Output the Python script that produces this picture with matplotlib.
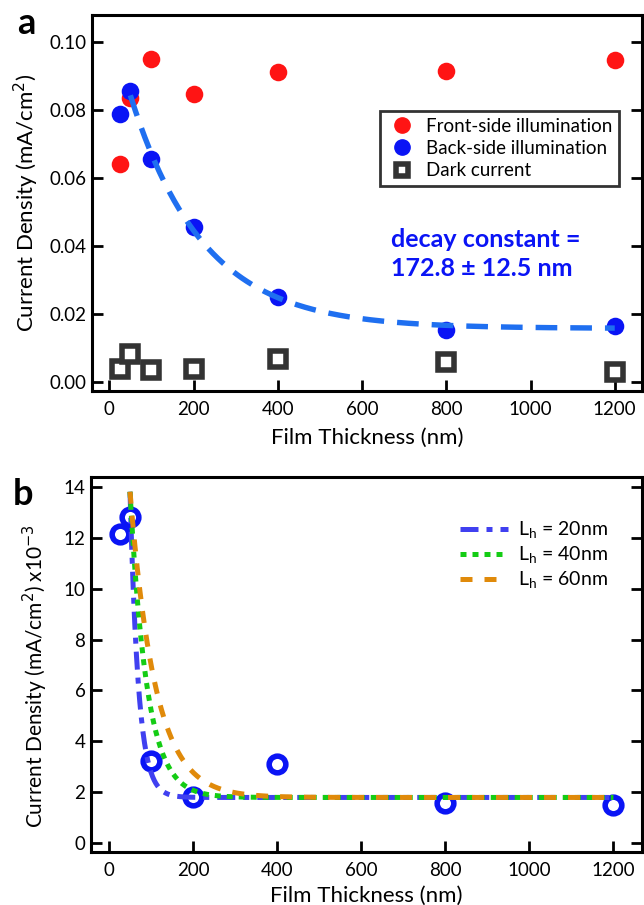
import numpy as np
import matplotlib
matplotlib.use('Agg')
import matplotlib.pyplot as plt
from matplotlib.lines import Line2D

plt.rcParams['font.family'] = ['Lato', 'DejaVu Sans']

# panel a data
thickness = [25, 50, 100, 200, 400, 800, 1200]
front_side = [0.0643, 0.0835, 0.0950, 0.0848, 0.0912, 0.0915, 0.0948]
back_side = [0.0790, 0.0857, 0.0658, 0.0456, 0.0251, 0.0154, 0.0167]
dark_current = [0.0040, 0.0085, 0.0036, 0.0041, 0.0070, 0.0060, 0.0032]

# exponential fit
fit_tau = 172.8
fit_amp = 0.0685
fit_offset = 0.0159
fit_start = 50

# panel b data
back_dark_sub = [12.15, 12.82, 3.22, 1.82, 3.12, 1.60, 1.51]
lh_values = [20, 40, 60]
model_amp = 12.0
model_offset = 1.8
model_start = 50

W, H = 644, 905
fig = plt.figure(figsize=(W / 100, H / 100), dpi=100)


def px_axes(left, top, right, bottom):
    return fig.add_axes([left / W, 1 - bottom / H, (right - left) / W, (bottom - top) / H])


def style(ax):
    for s in ax.spines.values():
        s.set_linewidth(2.2)
    ax.tick_params(direction='in', length=8, width=2, labelsize=13.5,
                   left=True, right=True, top=False, bottom=True, pad=4)
    ax.tick_params(axis='x', pad=7)


# ---------------- panel a ----------------
ax1 = px_axes(91.7, 15, 642, 391)
style(ax1)
ax1.scatter(thickness, front_side, s=160, color='#ff1414', zorder=3, linewidths=0)
ax1.scatter(thickness, back_side, s=160, color='#0a14f5', zorder=3, linewidths=0)
ax1.plot(thickness, dark_current, ls='none', marker='s', ms=11, mfc='white',
         mec='#333333', mew=4, zorder=3)

xf = np.linspace(fit_start, thickness[-1], 300)
yf = fit_offset + fit_amp * np.exp(-(xf - fit_start) / fit_tau)
ax1.plot(xf, yf, color='#1f6ff0', lw=3.9, dashes=(4, 2.4), zorder=4)

ax1.set_xlim(-41.8, 1264.7)
ax1.set_ylim(-0.0025, 0.1080)
ax1.set_xticks([0, 200, 400, 600, 800, 1000, 1200])
ax1.set_yticks([0.00, 0.02, 0.04, 0.06, 0.08, 0.10])
ax1.set_yticklabels(['0.00', '0.02', '0.04', '0.06', '0.08', '0.10'])
ax1.set_xlabel('Film Thickness (nm)', fontsize=16, labelpad=7)
ax1.set_ylabel('Current Density (mA/cm$^2$)', fontsize=16, labelpad=6)

handles_a = [
    Line2D([], [], ls='none', marker='o', ms=11, color='#ff1414'),
    Line2D([], [], ls='none', marker='o', ms=11, color='#0a14f5'),
    Line2D([], [], ls='none', marker='s', ms=9, mfc='white', mec='#333333', mew=4),
]
leg = ax1.legend(handles_a, ['Front-side illumination', 'Back-side illumination', 'Dark current'],
                 loc='upper left', bbox_to_anchor=((380 - 91.7) / (642 - 91.7), (391 - 111) / 376),
                 fontsize=13.5, frameon=True, fancybox=False, edgecolor='black',
                 handletextpad=0.5, handlelength=1.6, borderpad=0.35, labelspacing=0.28,
                 borderaxespad=0)
leg.get_frame().set_linewidth(2)

ax1.text(669, 0.0378, 'decay constant =\n172.8 \u00b1 12.5 nm', color='#0a14f5',
         fontsize=18, fontweight='bold',
         va='center', ha='left', linespacing=1.35)

fig.text(26 / W, 1 - 24 / H, 'a', fontsize=26, fontweight='bold', ha='center', va='center')

# ---------------- panel b ----------------
ax2 = px_axes(91, 477, 642, 852.3)
style(ax2)
ax2.plot(thickness, back_dark_sub, ls='none', marker='o', ms=12, mfc='none',
         mec='#0a14f5', mew=4, zorder=3)

line_colors = ['#4040f0', '#14cc14', '#e08a0a']
line_dashes = [(3.6, 1.6, 1.2, 1.6), (1.2, 1.2), (2.4, 2.4)]
xm = np.linspace(model_start, thickness[-1], 600)
for lh, c, d in zip(lh_values, line_colors, line_dashes):
    ym = model_offset + model_amp * np.exp(-(xm - model_start) / lh)
    ax2.plot(xm, ym, color=c, lw=3.6, dashes=d, label='L$_\\mathregular{h}$ = %dnm' % lh, zorder=4)

ax2.set_xlim(-42.8, 1268)
ax2.set_ylim(-0.353, 14.38)
ax2.set_xticks([0, 200, 400, 600, 800, 1000, 1200])
ax2.set_yticks(range(0, 15, 2))
ax2.set_xlabel('Film Thickness (nm)', fontsize=16, labelpad=5)
ylab = ax2.set_ylabel('Current Density (mA/cm$^2$) x10$^{-3}$', fontsize=15, labelpad=10)
ylab.set_y(0.47)
ax2.legend(loc='upper left', bbox_to_anchor=((452 - 91) / (642 - 91), (852.3 - 512) / 375.3),
           fontsize=14, frameon=False, handlelength=2.5, handletextpad=0.5,
           labelspacing=0.2, borderaxespad=0)

fig.text(23 / W, 1 - 494 / H, 'b', fontsize=26, fontweight='bold', ha='center', va='center')

fig.savefig('out.png', dpi=100)
